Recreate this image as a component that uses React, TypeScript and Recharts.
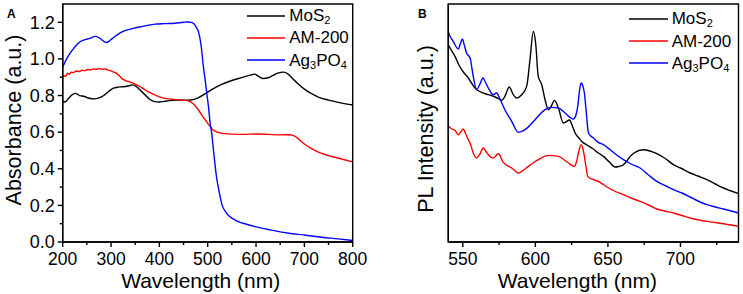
import React from 'react';
import { LineChart, Line, XAxis, YAxis, ReferenceArea, Legend } from 'recharts';

const FONT = '"Liberation Sans", Arial, Helvetica, sans-serif';

// ---- Panel A: absorbance spectra ----
const mos2AbsWl = [200, 205, 212, 220, 226, 235, 245, 255, 265, 275, 285, 295, 305, 315, 325, 335, 345, 352, 360, 370, 380, 390, 400, 410, 420, 435, 450, 465, 480, 495, 510, 530, 550, 570, 590, 597, 605, 615, 625, 635, 645, 657, 665, 675, 685, 700, 715, 730, 750, 775, 800];
const mos2Abs = [0.77, 0.765, 0.785, 0.805, 0.812, 0.8, 0.795, 0.785, 0.782, 0.787, 0.8, 0.822, 0.84, 0.846, 0.848, 0.852, 0.858, 0.85, 0.83, 0.805, 0.78, 0.767, 0.765, 0.768, 0.772, 0.775, 0.775, 0.776, 0.787, 0.81, 0.835, 0.862, 0.882, 0.898, 0.913, 0.917, 0.905, 0.893, 0.897, 0.91, 0.922, 0.928, 0.92, 0.895, 0.868, 0.835, 0.81, 0.79, 0.775, 0.76, 0.748];

const am200AbsWl = [200, 203, 206, 210, 214, 218, 222, 228, 234, 240, 246, 252, 258, 264, 270, 276, 282, 288, 294, 300, 306, 312, 318, 324, 330, 340, 350, 360, 370, 385, 400, 415, 430, 445, 460, 470, 480, 490, 500, 510, 520, 535, 550, 575, 600, 625, 650, 670, 680, 690, 700, 715, 730, 750, 775, 800];
const am200Abs = [0.895, 0.908, 0.905, 0.922, 0.916, 0.928, 0.925, 0.934, 0.931, 0.939, 0.936, 0.942, 0.94, 0.945, 0.944, 0.948, 0.944, 0.945, 0.939, 0.935, 0.928, 0.92, 0.905, 0.89, 0.882, 0.873, 0.862, 0.848, 0.832, 0.81, 0.793, 0.783, 0.779, 0.776, 0.771, 0.755, 0.725, 0.685, 0.648, 0.615, 0.6, 0.592, 0.589, 0.588, 0.59, 0.588, 0.585, 0.586, 0.578, 0.558, 0.535, 0.51, 0.49, 0.472, 0.455, 0.437];

const agpoAbsWl = [200, 207, 215, 222, 229, 237, 246, 256, 267, 277, 284, 289, 295, 301, 312, 325, 340, 356, 375, 391, 410, 432, 450, 460, 466, 471, 476, 481, 486, 491, 495, 498, 502, 505, 508, 512, 518, 524, 530, 537, 545, 560, 580, 600, 630, 667, 700, 736, 770, 800];
const agpoAbs = [0.955, 0.995, 1.03, 1.055, 1.078, 1.095, 1.105, 1.112, 1.123, 1.113, 1.098, 1.09, 1.095, 1.108, 1.13, 1.15, 1.163, 1.173, 1.183, 1.19, 1.193, 1.195, 1.2, 1.202, 1.2, 1.193, 1.175, 1.148, 1.08, 0.96, 0.88, 0.815, 0.73, 0.65, 0.6, 0.5, 0.36, 0.27, 0.2, 0.165, 0.14, 0.116, 0.097, 0.083, 0.066, 0.048, 0.038, 0.026, 0.017, 0.008];

const absXTicks = [200, 250, 300, 350, 400, 450, 500, 550, 600, 650, 700, 750, 800];
const absYTicks = [0, 0.1, 0.2, 0.3, 0.4, 0.5, 0.6, 0.7, 0.8, 0.9, 1.0, 1.1, 1.2];

// ---- Panel B: PL spectra (arbitrary units) ----
const mos2PlWl = [540, 542, 544.6, 547, 549.2, 551.5, 553.8, 556, 558.4, 561, 563, 567.6, 572.2, 575, 576.8, 579, 582, 584.8, 587, 590.6, 594, 596.3, 598.6, 600.2, 602, 604.4, 606.7, 609, 611, 613.1, 615.9, 619.3, 621, 623.5, 625.5, 627.4, 630, 632, 635.5, 638.9, 643.4, 646.9, 651, 655, 657.5, 660.7, 663, 665.3, 668, 674.5, 679, 683.7, 690, 695.2, 700, 706.7, 712, 718.2, 724, 729.7, 735, 740];
const mos2Pl = [197, 192, 185.6, 178, 172.3, 168, 164, 159, 154, 151, 149.6, 147.3, 145, 143, 141.6, 145.6, 155, 147.3, 144, 147.3, 155.6, 182.3, 210.6, 199, 165.6, 157.3, 142.3, 132.3, 136, 141.6, 134, 119, 120, 122, 116, 109, 104, 100.6, 97, 94, 89, 85.6, 80, 75, 75.5, 77.3, 81, 85.6, 89, 92.3, 91, 88.3, 83, 77.3, 74, 69, 66, 62.3, 58, 54, 51, 48.3];

const am200PlWl = [540, 540.7, 542.5, 544.6, 546.9, 548.5, 550.3, 552, 553.8, 555.5, 557.2, 559.5, 561.8, 564.1, 565.8, 567.6, 571, 574.5, 577.9, 583.7, 588.3, 591.5, 595.2, 602, 609, 615.9, 622.8, 626.9, 628.5, 629.7, 631.5, 632.8, 633.8, 635, 636.1, 640, 643.4, 646.9, 653, 660.7, 666, 672.2, 678, 683.7, 689, 695.2, 701, 706.7, 712, 718.2, 724, 729.7, 735, 740];
const am200Pl = [116, 115, 113, 111.6, 107.3, 110, 113, 108, 102.3, 97, 89, 84, 88, 94, 91, 87.3, 84, 88.3, 79.6, 74, 69, 71.5, 75.6, 82.3, 86.6, 85.6, 79, 75.6, 81, 89, 97.3, 93, 85.6, 74, 65.6, 62.3, 60.6, 57.3, 52, 47.3, 44, 40.6, 37, 33, 31, 29, 26.5, 24, 22.3, 20.6, 19.5, 18.3, 17, 15.6];

const agpoPlWl = [540, 540.7, 543.4, 546.9, 548.5, 549.7, 551, 552.6, 555, 557.2, 559.5, 561.5, 564, 565.5, 567.6, 571, 573.3, 575.6, 579, 583.7, 588.3, 592.9, 599.8, 606.7, 611.3, 615.9, 620.5, 626.2, 628, 629.2, 630.5, 631.5, 632.5, 633.8, 635.2, 636.6, 640, 643.4, 646.9, 651.5, 656, 660.7, 666, 672.2, 678, 683.7, 690, 695.2, 701, 706.7, 712, 718.2, 724, 729.7, 735, 740];
const agpoPl = [210, 207.3, 200.6, 193, 199, 203, 197, 189, 184, 165.6, 152.3, 157, 164, 160, 154, 147.3, 149, 143, 132.3, 120.6, 109.6, 112.3, 122.3, 132.3, 134.6, 134, 129, 123, 127, 135.6, 152, 159, 157, 149, 128, 109, 104, 99.6, 97.3, 92.3, 87, 82.3, 78, 74, 67, 60.6, 56, 52.3, 49, 45, 41, 37.3, 35, 33, 31, 29];

const plXTicks = [550, 575, 600, 625, 650, 675, 700, 725];

const seriesOrder = ['MoS2', 'AM-200', 'Ag3PO4'];

const zip = (xs: number[], ys: number[]) => xs.map((wl, i) => ({ wl, v: ys[i] }));

const AXIS = '#000';
const LW = 1.4;

// label shows "MoS2", "Ag3PO4" with subscript digits
const chemName = (name: string) => {
  if (name.includes('-')) return name;
  return name.split(/(\d)/).map((part, i) =>
    /\d/.test(part) ? (
      <span key={i} style={{ fontSize: 11, position: 'relative', top: 3 }}>{part}</span>
    ) : (
      <span key={i}>{part}</span>
    )
  );
};

const renderLegend = (lineLen: number, gap: number) => (props: any) => {
  const items = [...(props.payload || [])].sort(
    (a: any, b: any) => seriesOrder.indexOf(a.value) - seriesOrder.indexOf(b.value)
  );
  return (
    <div style={{ fontFamily: FONT, fontSize: 17, color: '#000' }}>
      {items.map((entry: any) => (
        <div key={entry.value} style={{ display: 'flex', alignItems: 'center', height: 22.2 }}>
          <svg width={lineLen} height={4} style={{ display: 'block' }}>
            <line x1={0} x2={lineLen} y1={2} y2={2} stroke={entry.color} strokeWidth={LW} />
          </svg>
          <span style={{ marginLeft: gap, lineHeight: 1 }}>{chemName(entry.value)}</span>
        </div>
      ))}
    </div>
  );
};

const makeXTick = (isMajor: (v: number) => boolean) => (props: any) => {
  const { x, y, payload } = props;
  const major = isMajor(payload.value);
  return (
    <g>
      <line x1={x} x2={x} y1={y} y2={y + (major ? 5 : 3)} stroke={AXIS} strokeWidth={LW} />
      {major && (
        <text x={x} y={y + 23.3} textAnchor="middle" fontSize={17.5} fontFamily={FONT} fill="#000">
          {payload.value}
        </text>
      )}
    </g>
  );
};

const absYTick = (props: any) => {
  const { x, y, payload } = props;
  const major = Math.round(payload.value * 10) % 2 === 0;
  return (
    <g>
      <line x1={x} x2={x - (major ? 5 : 3)} y1={y} y2={y} stroke={AXIS} strokeWidth={LW} />
      {major && (
        <text x={x - 8} y={y} dy="0.35em" textAnchor="end" fontSize={18} fontFamily={FONT} fill="#000">
          {payload.value.toFixed(1)}
        </text>
      )}
    </g>
  );
};

const xTitle = (dx: number) => (props: any) => {
  const { x, y, width } = props.viewBox;
  return (
    <text x={x + width / 2 + dx} y={y + 46} textAnchor="middle" fontSize={21} fontFamily={FONT} fill="#000">
      Wavelength (nm)
    </text>
  );
};

const yTitle = (text: string, baseX: number, dy: number) => (props: any) => {
  const { x, y, height } = props.viewBox;
  const tx = x + baseX;
  const ty = y + height / 2 + dy;
  return (
    <text
      x={tx}
      y={ty}
      transform={`rotate(-90, ${tx}, ${ty})`}
      textAnchor="middle"
      fontSize={21.5}
      fontFamily={FONT}
      fill="#000"
    >
      {text}
    </text>
  );
};

function AbsorbancePanel() {
  return (
    <LineChart width={370} height={294} margin={{ top: 4, right: 17.3, left: 0, bottom: 0 }}>
      <XAxis
        type="number"
        dataKey="wl"
        domain={[200, 800]}
        ticks={absXTicks}
        interval={0}
        allowDataOverflow
        height={52}
        tickSize={0}
        tickMargin={0}
        tickLine={false}
        tick={makeXTick((v) => v % 100 === 0)}
        axisLine={{ stroke: AXIS, strokeWidth: LW }}
        label={xTitle(-7)}
      />
      <YAxis
        type="number"
        dataKey="v"
        domain={[0, 1.3]}
        ticks={absYTicks}
        interval={0}
        allowDataOverflow
        width={62.7}
        tickSize={0}
        tickMargin={0}
        tickLine={false}
        tick={absYTick}
        axisLine={{ stroke: AXIS, strokeWidth: LW }}
        label={yTitle('Absorbance (a.u.)', 21, -3)}
      />
      <ReferenceArea x1={200} x2={800} y1={0} y2={1.3} fill="none" stroke={AXIS} strokeWidth={LW} />
      <Legend
        layout="vertical"
        align="center"
        verticalAlign="middle"
        content={renderLegend(38, 4.6)}
        wrapperStyle={{ top: 4.6, left: 246.7, width: 'auto', height: 'auto' }}
      />
      <Line name="MoS2" data={zip(mos2AbsWl, mos2Abs)} dataKey="v" type="monotone" stroke="#000000" strokeWidth={LW} dot={false} isAnimationActive={false} />
      <Line name="AM-200" data={zip(am200AbsWl, am200Abs)} dataKey="v" type="monotone" stroke="#ff0000" strokeWidth={LW} dot={false} isAnimationActive={false} />
      <Line name="Ag3PO4" data={zip(agpoAbsWl, agpoAbs)} dataKey="v" type="monotone" stroke="#0000ff" strokeWidth={LW} dot={false} isAnimationActive={false} />
    </LineChart>
  );
}

function PLPanel() {
  return (
    <LineChart width={373} height={294} margin={{ top: 4, right: 4.5, left: 0, bottom: 0 }}>
      <XAxis
        type="number"
        dataKey="wl"
        domain={[540, 740]}
        ticks={plXTicks}
        interval={0}
        allowDataOverflow
        height={52}
        tickSize={0}
        tickMargin={0}
        tickLine={false}
        tick={makeXTick((v) => v % 50 === 0)}
        axisLine={{ stroke: AXIS, strokeWidth: LW }}
        label={xTitle(-16)}
      />
      <YAxis
        type="number"
        dataKey="v"
        domain={[0, 238]}
        allowDataOverflow
        width={78.3}
        tick={false}
        tickLine={false}
        axisLine={{ stroke: AXIS, strokeWidth: LW }}
        label={yTitle('PL Intensity (a.u.)', 62.5, 6)}
      />
      <ReferenceArea x1={540} x2={740} y1={0} y2={238} fill="none" stroke={AXIS} strokeWidth={LW} />
      <Legend
        layout="vertical"
        align="center"
        verticalAlign="middle"
        content={renderLegend(39, 3.4)}
        wrapperStyle={{ top: 7.9, left: 259.3, width: 'auto', height: 'auto' }}
      />
      <Line name="MoS2" data={zip(mos2PlWl, mos2Pl)} dataKey="v" type="monotone" stroke="#000000" strokeWidth={LW} dot={false} isAnimationActive={false} />
      <Line name="AM-200" data={zip(am200PlWl, am200Pl)} dataKey="v" type="monotone" stroke="#ff0000" strokeWidth={LW} dot={false} isAnimationActive={false} />
      <Line name="Ag3PO4" data={zip(agpoPlWl, agpoPl)} dataKey="v" type="monotone" stroke="#0000ff" strokeWidth={LW} dot={false} isAnimationActive={false} />
    </LineChart>
  );
}

const panelLetter: React.CSSProperties = {
  position: 'absolute',
  top: 7.8,
  fontFamily: FONT,
  fontSize: 12,
  fontWeight: 'bold',
  lineHeight: '12px',
  color: '#000',
};

export default function App() {
  return (
    <div style={{ position: 'absolute', left: 0, top: 0, width: 743, height: 294, background: '#fff', overflow: 'hidden' }}>
      <div style={{ position: 'absolute', left: 0, top: 0 }}>
        <AbsorbancePanel />
      </div>
      <div style={{ position: 'absolute', left: 370, top: 0 }}>
        <PLPanel />
      </div>
      <div style={{ ...panelLetter, left: 7 }}>A</div>
      <div style={{ ...panelLetter, left: 418 }}>B</div>
    </div>
  );
}
